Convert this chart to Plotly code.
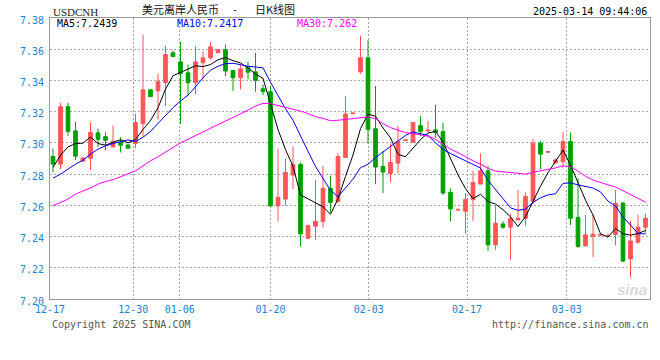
import plotly.graph_objects as go

# ---------------- data ----------------
opens = [7.2913, 7.2864, 7.3232, 7.3077, 7.2883, 7.2902, 7.3064, 7.3040, 7.2974, 7.3004,
         7.2987, 7.2996, 7.3123, 7.3340, 7.3334, 7.3387, 7.3577, 7.3519, 7.3449, 7.3385,
         7.3513, 7.3545, 7.3579, 7.3596, 7.3464, 7.3417, 7.3485, 7.3455, 7.3347, 7.3328,
         7.2596, 7.2640, 7.2794, 7.2862, 7.2389, 7.2466, 7.2496, 7.2709, 7.2623, 7.2906,
         7.3187, 7.3455, 7.3545, 7.3091, 7.2849, 7.2804, 7.2870, 7.3015, 7.3004, 7.3111,
         7.3077, 7.3083, 7.3072, 7.2683, 7.2570, 7.2562, 7.2636, 7.2736, 7.2821, 7.2347,
         7.2481, 7.2460, 7.2506, 7.2515, 7.2626, 7.2998, 7.2940, 7.2872, 7.2879, 7.3009,
         7.2523, 7.2340, 7.2402, 7.2409, 7.2402, 7.2413, 7.2615, 7.2257, 7.2364, 7.2460]
highs = [7.2964, 7.3257, 7.3257, 7.3134, 7.2904, 7.3134, 7.3091, 7.3070, 7.3111, 7.3036,
         7.2991, 7.3187, 7.3694, 7.3340, 7.3443, 7.3621, 7.3591, 7.3647, 7.3502, 7.3619,
         7.3587, 7.3647, 7.3596, 7.3630, 7.3464, 7.3502, 7.3519, 7.3577, 7.3374, 7.3364,
         7.2964, 7.2900, 7.2977, 7.2874, 7.2470, 7.2764, 7.2853, 7.2789, 7.2934, 7.3300,
         7.3193, 7.3687, 7.3657, 7.3364, 7.2949, 7.2996, 7.3109, 7.3021, 7.3130, 7.3172,
         7.3140, 7.3243, 7.3130, 7.2709, 7.2577, 7.2679, 7.2821, 7.2932, 7.2853, 7.2598,
         7.2498, 7.2545, 7.2698, 7.2683, 7.3028, 7.3013, 7.2947, 7.2900, 7.3072, 7.3066,
         7.2772, 7.2538, 7.2538, 7.2415, 7.2421, 7.2698, 7.2619, 7.2498, 7.2540, 7.2545]
lows = [7.2811, 7.2832, 7.3045, 7.2889, 7.2883, 7.2826, 7.2974, 7.2953, 7.2970, 7.2938,
        7.2966, 7.2966, 7.3043, 7.3296, 7.3151, 7.3236, 7.3553, 7.3123, 7.3300, 7.3311,
        7.3406, 7.3534, 7.3579, 7.3428, 7.3332, 7.3343, 7.3406, 7.3328, 7.3306, 7.2596,
        7.2496, 7.2598, 7.2704, 7.2336, 7.2387, 7.2379, 7.2455, 7.2555, 7.2619, 7.2906,
        7.3185, 7.3443, 7.2996, 7.2736, 7.2679, 7.2747, 7.2806, 7.3013, 7.3004, 7.3045,
        7.3066, 7.3034, 7.2666, 7.2498, 7.2566, 7.2417, 7.2500, 7.2736, 7.2306, 7.2315,
        7.2449, 7.2251, 7.2506, 7.2470, 7.2609, 7.2832, 7.2938, 7.2864, 7.2838, 7.2474,
        7.2328, 7.2336, 7.2268, 7.2407, 7.2400, 7.2343, 7.2236, 7.2140, 7.2353, 7.2421]
closes = [7.2864, 7.3232, 7.3074, 7.2915, 7.2904, 7.3066, 7.3023, 7.3017, 7.3009, 7.2985,
          7.2966, 7.3130, 7.3340, 7.3296, 7.3394, 7.3566, 7.3553, 7.3445, 7.3385, 7.3519,
          7.3545, 7.3615, 7.3596, 7.3460, 7.3417, 7.3474, 7.3453, 7.3400, 7.3328, 7.2596,
          7.2651, 7.2811, 7.2862, 7.2417, 7.2470, 7.2498, 7.2709, 7.2619, 7.2913, 7.3185,
          7.3191, 7.3545, 7.3087, 7.2845, 7.2813, 7.2874, 7.3009, 7.3019, 7.3130, 7.3074,
          7.3081, 7.3066, 7.2679, 7.2577, 7.2574, 7.2638, 7.2747, 7.2821, 7.2347, 7.2485,
          7.2460, 7.2515, 7.2517, 7.2657, 7.2998, 7.2928, 7.2945, 7.2891, 7.3009, 7.2517,
          7.2336, 7.2411, 7.2415, 7.2413, 7.2406, 7.2613, 7.2243, 7.2372, 7.2460, 7.2517]

ma5 = [7.2843, 7.2921, 7.2974, 7.2996, 7.2998, 7.3038, 7.2996, 7.2985, 7.3004, 7.3020,
       7.3000, 7.3021, 7.3086, 7.3143, 7.3225, 7.3345, 7.3430, 7.3451, 7.3469, 7.3494,
       7.3489, 7.3502, 7.3532, 7.3547, 7.3527, 7.3512, 7.3480, 7.3441, 7.3414, 7.3250,
       7.3086, 7.2957, 7.2850, 7.2667, 7.2642, 7.2612, 7.2591, 7.2543, 7.2642, 7.2785,
       7.2923, 7.3091, 7.3184, 7.3171, 7.3096, 7.3033, 7.2926, 7.2912, 7.2969, 7.3021,
       7.3063, 7.3074, 7.3006, 7.2895, 7.2795, 7.2707, 7.2643, 7.2671, 7.2625, 7.2608,
       7.2572, 7.2526, 7.2465, 7.2527, 7.2629, 7.2723, 7.2809, 7.2884, 7.2954, 7.2858,
       7.2740, 7.2633, 7.2538, 7.2418, 7.2396, 7.2452, 7.2418, 7.2409, 7.2419, 7.2439]
ma10 = [7.2774, 7.2800, 7.2832, 7.2864, 7.2889, 7.2928, 7.2960, 7.2981, 7.2996, 7.3009,
        7.3019, 7.3009, 7.3036, 7.3074, 7.3123, 7.3173, 7.3226, 7.3268, 7.3306, 7.3359,
        7.3417, 7.3466, 7.3491, 7.3508, 7.3510, 7.3501, 7.3491, 7.3486, 7.3481, 7.3388,
        7.3299, 7.3219, 7.3145, 7.3041, 7.2946, 7.2849, 7.2774, 7.2696, 7.2655, 7.2714,
        7.2768, 7.2841, 7.2863, 7.2906, 7.2941, 7.2978, 7.3008, 7.3048, 7.3070, 7.3059,
        7.3048, 7.3000, 7.2959, 7.2932, 7.2908, 7.2885, 7.2859, 7.2839, 7.2760, 7.2702,
        7.2639, 7.2584, 7.2568, 7.2576, 7.2619, 7.2648, 7.2667, 7.2674, 7.2741, 7.2744,
        7.2731, 7.2721, 7.2711, 7.2686, 7.2627, 7.2596, 7.2525, 7.2474, 7.2419, 7.2417]
ma30 = [7.2598, 7.2619, 7.2640, 7.2672, 7.2689, 7.2711, 7.2736, 7.2753, 7.2764, 7.2783,
        7.2800, 7.2821, 7.2853, 7.2885, 7.2911, 7.2938, 7.2970, 7.3000, 7.3023, 7.3049,
        7.3070, 7.3094, 7.3117, 7.3140, 7.3164, 7.3187, 7.3210, 7.3236, 7.3253, 7.3251,
        7.3240, 7.3226, 7.3219, 7.3204, 7.3187, 7.3168, 7.3157, 7.3142, 7.3145, 7.3150,
        7.3155, 7.3162, 7.3166, 7.3155, 7.3123, 7.3098, 7.3081, 7.3066, 7.3060, 7.3052,
        7.3043, 7.3023, 7.2991, 7.2960, 7.2938, 7.2911, 7.2885, 7.2864, 7.2836, 7.2820,
        7.2815, 7.2811, 7.2802, 7.2800, 7.2812, 7.2821, 7.2830, 7.2840, 7.2853, 7.2848,
        7.2820, 7.2786, 7.2762, 7.2745, 7.2731, 7.2718, 7.2694, 7.2670, 7.2645, 7.2620]

date_ticks = [-0.4, 10.7, 16.9, 29.0, 42.1, 55.2, 68.5]
date_labels = ["12-17", "12-30", "01-06", "01-20", "02-03", "02-17", "03-03"]
y_ticks = [7.20, 7.22, 7.24, 7.26, 7.28, 7.30, 7.32, 7.34, 7.36, 7.38]

ma_labels = ["MA5:7.2439", "MA10:7.2417", "MA30:7.262"]

# ---------------- figure ----------------
x = list(range(len(closes)))
RED = "#ff5555"
GREEN = "#00a000"
BLUE_TXT = "#1a82d0"
MONO = "DejaVu Sans Mono"

fig = go.Figure()
fig.add_trace(go.Candlestick(
    x=x, open=opens, high=highs, low=lows, close=closes,
    increasing=dict(line=dict(color=RED, width=1), fillcolor=RED),
    decreasing=dict(line=dict(color=GREEN, width=1), fillcolor=GREEN),
    whiskerwidth=0, showlegend=False, hoverinfo="skip",
))
for ys, col in ((ma5, "#000000"), (ma10, "#0000ff"), (ma30, "#ff00ff")):
    fig.add_trace(go.Scatter(x=x, y=ys, mode="lines", line=dict(color=col, width=1),
                             showlegend=False, hoverinfo="skip"))

L, R, T, B = 50, 10, 18, 61
W, H = 660, 360
pw, ph = W - L - R, H - T - B


def ax(px):
    return (px - L) / pw


def ay(py):
    return (H - B - py) / ph


ann = []


def text(s, px, py, color, size, family=MONO, xanchor="left"):
    ann.append(dict(text=s, x=ax(px), y=ay(py), xref="paper", yref="paper",
                    xanchor=xanchor, yanchor="middle", showarrow=False,
                    font=dict(family=family, size=size, color=color)))


text("USDCNH", 51, 12, "#222222", 11, family="Liberation Serif")
text("美元离岸人民币", 140, 9, "#111111", 11, family="Noto Sans CJK SC")
text("-", 235, 9, "#111111", 11, family="Noto Sans CJK SC", xanchor="center")
text("日K线图", 253, 9, "#111111", 11, family="Noto Sans CJK SC")
text("2025-03-14 09:44:06", 649, 11.5, "#000000", 10, xanchor="right")
text(ma_labels[0], 55, 23.5, "#000000", 10)
text(ma_labels[1], 175, 23.5, "#0000ff", 10)
text(ma_labels[2], 295, 23.5, "#ff00ff", 10)
text("Copyright 2025 SINA.COM", 50, 324, "#555555", 10)
text("http://finance.sina.com.cn", 651, 324, "#555555", 10, xanchor="right")
ann.append(dict(text="<b><i>sina</i></b>", x=ax(632), y=ay(289), xref="paper", yref="paper",
                xanchor="center", yanchor="middle", showarrow=False,
                font=dict(family="Liberation Sans", size=15, color="rgba(185,185,185,0.55)")))

fig.update_layout(
    width=W, height=H,
    margin=dict(l=L, r=R, t=T, b=B, pad=0),
    paper_bgcolor="white", plot_bgcolor="white",
    boxgap=0.3,
    annotations=ann,
    xaxis=dict(range=[-0.4, 79.6], rangeslider=dict(visible=False),
               tickmode="array", tickvals=date_ticks, ticktext=date_labels,
               showgrid=True, gridcolor="#a8a8a8", griddash="2px,2px", gridwidth=1,
               zeroline=False, showline=True, mirror=True, linecolor="#999999", linewidth=1,
               ticks="", tickfont=dict(family=MONO, size=10, color=BLUE_TXT),
               ticklabelstandoff=1, fixedrange=True),
    yaxis=dict(range=[7.20, 7.38], tickmode="array", tickvals=y_ticks,
               ticktext=[f"{v:.2f}" for v in y_ticks],
               showgrid=True, gridcolor="#a8a8a8", griddash="2px,2px", gridwidth=1,
               zeroline=False, showline=True, mirror=True, linecolor="#999999", linewidth=1,
               ticks="", tickfont=dict(family=MONO, size=10, color=BLUE_TXT),
               ticklabelstandoff=3, ticklabelshift=2, fixedrange=True),
)

fig.write_html("out.html")
